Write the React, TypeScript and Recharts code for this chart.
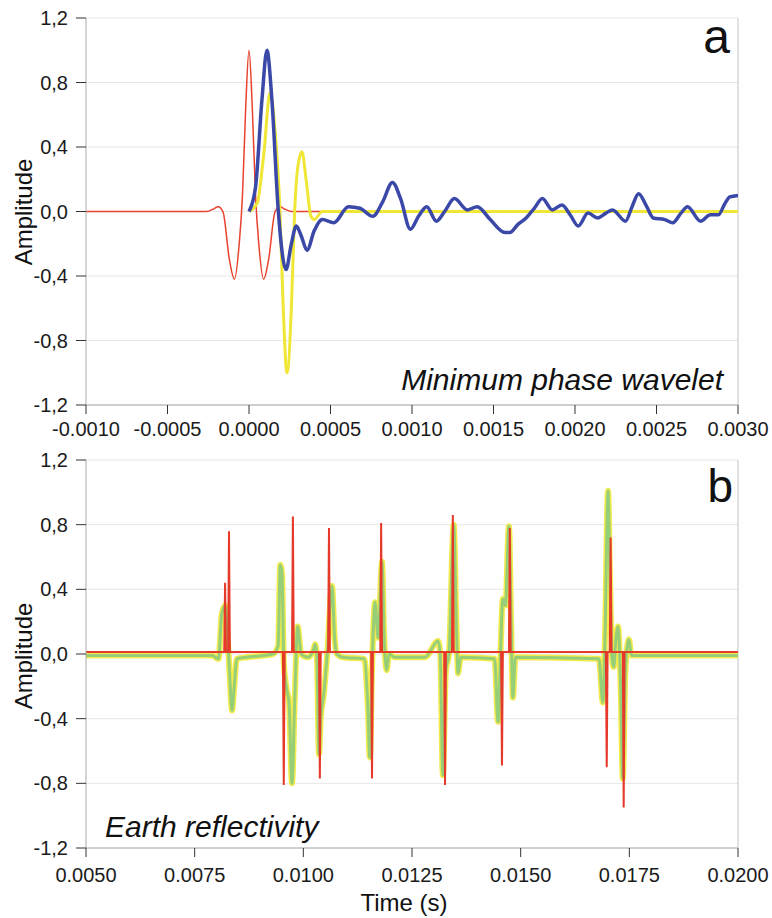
import { LineChart, Line, XAxis, YAxis, CartesianGrid, ReferenceLine } from 'recharts';

// panel a: wavelets, [time (s), amplitude]
const zeroPhase: [number, number][] = [
  [-0.001, 0], [-0.00026, 0], [-0.00022, 0.015], [-0.00019, 0.03], [-0.00016, 0.0],
  [-0.00012, -0.3], [-0.00009, -0.42], [-0.00006, -0.2], [-0.00004, 0.1], [-0.00002, 0.65],
  [0, 1.0], [0.00002, 0.65], [0.00004, 0.1], [0.00006, -0.2], [0.00009, -0.42],
  [0.00012, -0.3], [0.00016, 0], [0.00019, 0.03], [0.00022, 0.015], [0.00026, 0], [0.00047, 0],
];

const minPhase: [number, number][] = [
  [0, 0], [0.00005, 0.05], [0.00009, 0.35], [0.00013, 0.74], [0.00016, 0.5], [0.00019, 0],
  [0.00021, -0.6], [0.000233, -1.0], [0.00026, -0.6], [0.00028, 0], [0.0003, 0.28],
  [0.000325, 0.37], [0.00035, 0.2], [0.00038, -0.03], [0.0004, -0.05], [0.00045, 0], [0.003, 0],
];

const recorded: [number, number][] = [
  [0, 0], [0.00004, 0.15], [0.00008, 0.7], [0.00011, 1.0], [0.00014, 0.7], [0.00018, 0],
  [0.000227, -0.36], [0.00026, -0.2], [0.00029, -0.09], [0.00032, -0.15], [0.000356, -0.24],
  [0.0004, -0.12], [0.00045, -0.05], [0.00052, -0.07], [0.00061, 0.03], [0.00068, 0.02],
  [0.00076, -0.03], [0.00082, 0.06], [0.00088, 0.18], [0.00093, 0.08], [0.00099, -0.11],
  [0.00104, -0.03], [0.00109, 0.03], [0.00115, -0.06], [0.0012, 0.0], [0.00126, 0.08],
  [0.00134, 0.01], [0.0014, 0.03], [0.00148, -0.05], [0.00157, -0.13], [0.0016, -0.13],
  [0.00165, -0.08], [0.0017, -0.04], [0.00175, 0.02], [0.0018, 0.08], [0.00186, 0.01],
  [0.00192, 0.04], [0.00197, -0.02], [0.00202, -0.09], [0.00208, -0.01], [0.00214, -0.04],
  [0.00219, -0.01], [0.00223, 0.01], [0.00231, -0.06], [0.00235, 0.03], [0.00239, 0.11],
  [0.00244, 0.03], [0.00248, -0.04], [0.00255, -0.05], [0.0026, -0.07], [0.00265, -0.01],
  [0.00269, 0.03], [0.00277, -0.06], [0.00283, -0.02], [0.00288, -0.02], [0.00292, 0.05],
  [0.00295, 0.09], [0.003, 0.1],
];

// panel b: filtered trace and reflectivity spikes
const trace: [number, number][] = [
  [0.005, -0.01], [0.0079, -0.01], [0.00805, -0.03], [0.00812, 0.24], [0.0082, 0.3],
  [0.00826, 0.1], [0.0083, -0.1], [0.00836, -0.35], [0.00841, -0.2], [0.00847, -0.03],
  [0.0087, -0.02], [0.0093, 0.0], [0.00942, 0.05], [0.00947, 0.55], [0.00951, 0.5],
  [0.00955, -0.05], [0.00962, -0.22], [0.00967, -0.3], [0.00974, -0.8], [0.0098, -0.3],
  [0.00987, 0.17], [0.00995, 0.0], [0.0101, -0.02], [0.01024, 0.03], [0.01027, 0.06],
  [0.01031, 0.0], [0.01036, -0.62], [0.0104, -0.4], [0.01047, -0.25], [0.01055, 0.0],
  [0.01066, 0.42], [0.01072, 0.1], [0.01077, 0.0], [0.0109, -0.02], [0.0114, -0.03],
  [0.01148, -0.3], [0.01153, -0.64], [0.01159, 0.0], [0.01165, 0.32], [0.01172, 0.1],
  [0.01181, 0.57], [0.01186, 0.1], [0.01192, -0.1], [0.01197, 0.0], [0.0121, -0.02],
  [0.0128, -0.02], [0.0131, 0.08], [0.01315, 0.0], [0.01321, -0.75], [0.01328, -0.1],
  [0.01335, 0.0], [0.01346, 0.8], [0.01352, 0.2], [0.01356, -0.12], [0.01362, -0.02],
  [0.0144, -0.03], [0.01448, -0.42], [0.01453, -0.05], [0.01459, 0.34], [0.01465, 0.3],
  [0.01473, 0.79], [0.01478, 0.2], [0.01482, -0.27], [0.01488, -0.02], [0.0168, -0.03],
  [0.01689, -0.3], [0.01694, 0.1], [0.01701, 1.01], [0.01706, 0.4], [0.0171, -0.02],
  [0.01714, -0.08], [0.0172, 0.12], [0.01724, 0.17], [0.0173, -0.2], [0.01735, -0.77],
  [0.01741, -0.1], [0.01749, 0.09], [0.01755, -0.01], [0.02, -0.01],
];

const spikes: [number, number][] = [
  [0.0082, 0.44], [0.00829, 0.76], [0.00955, -0.81], [0.00976, 0.85], [0.01038, -0.77],
  [0.01059, 0.78], [0.01158, -0.77], [0.01179, 0.81], [0.01326, -0.81], [0.01344, 0.86],
  [0.01457, -0.69], [0.01475, 0.78], [0.01698, -0.7], [0.01707, 0.72], [0.01737, -0.95],
];
const spikeBase = 0.012;
const spikeHalf = 0.00002;

const ampTicks = [-1.2, -0.8, -0.4, 0, 0.4, 0.8, 1.2];
const topTicks = [-0.001, -0.0005, 0, 0.0005, 0.001, 0.0015, 0.002, 0.0025, 0.003];
const bottomTicks = [0.005, 0.0075, 0.01, 0.0125, 0.015, 0.0175, 0.02];

const toRows = (pts: [number, number][]) => pts.map(([t, v]) => ({ t, v }));

const spikeRows = [
  { t: 0.005, v: spikeBase },
  ...spikes.flatMap(([t, v]) => [
    { t: t - spikeHalf, v: spikeBase },
    { t, v },
    { t: t + spikeHalf, v: spikeBase },
  ]),
  { t: 0.02, v: spikeBase },
];

const FONT = '"Liberation Sans", Arial, Helvetica, sans-serif';
const tickStyle = { fontSize: 20, fill: '#1a1a1a', fontFamily: FONT };
const fmtAmp = (v: number) => v.toFixed(1).replace('.', ',');
const fmtTime = (v: number) => v.toFixed(4);

function Axes({ ticks, domain, labelGap }: { ticks: number[]; domain: [number, number]; labelGap: number }) {
  return (
    <>
      <CartesianGrid vertical={false} stroke="#e6e6e6" />
      <XAxis
        dataKey="t"
        type="number"
        domain={domain}
        ticks={ticks}
        allowDataOverflow
        tickFormatter={fmtTime}
        tick={tickStyle}
        tickSize={9}
        tickMargin={labelGap}
        axisLine={{ stroke: '#aaa' }}
        tickLine={{ stroke: '#333' }}
        height={40}
        interval={0}
      />
      <YAxis
        dataKey="v"
        type="number"
        domain={[-1.2, 1.2]}
        ticks={ampTicks}
        allowDataOverflow
        tickFormatter={fmtAmp}
        tick={tickStyle}
        tickSize={10}
        tickMargin={8}
        axisLine={{ stroke: '#aaa' }}
        tickLine={{ stroke: '#333' }}
        width={60}
        interval={0}
      />
      <ReferenceLine x={domain[1]} stroke="#c4c4c4" />
    </>
  );
}

export default function App() {
  return (
    <div style={{ position: 'absolute', left: 0, top: 0, width: 772, height: 918, background: '#fff' }}>
      <div style={{ position: 'absolute', left: 0, top: 0 }}>
        <LineChart width={772} height={445} margin={{ top: 18, right: 34, bottom: 0, left: 26 }}>
          {Axes({ ticks: topTicks, domain: [-0.001, 0.003], labelGap: 8 })}
          <Line data={toRows(zeroPhase)} dataKey="v" type="monotone" stroke="#e8412c" strokeWidth={1.5} dot={false} isAnimationActive={false} />
          <Line data={toRows(minPhase)} dataKey="v" type="monotone" stroke="#efe636" strokeWidth={3} dot={false} isAnimationActive={false} />
          <Line data={toRows(recorded)} dataKey="v" type="monotone" stroke="#3a48a8" strokeWidth={3.5} dot={false} isAnimationActive={false} />
        </LineChart>
      </div>
      <div style={{ position: 'absolute', left: 0, top: 442 }}>
        <LineChart width={772} height={446} margin={{ top: 18, right: 34, bottom: 0, left: 26 }}>
          {Axes({ ticks: bottomTicks, domain: [0.005, 0.02], labelGap: 11 })}
          <Line data={toRows(trace)} dataKey="v" type="monotone" stroke="#f3ea4e" strokeWidth={6} dot={false} isAnimationActive={false} />
          <Line data={toRows(trace)} dataKey="v" type="monotone" stroke="#96cf78" strokeWidth={3} dot={false} isAnimationActive={false} />
          <Line data={spikeRows} dataKey="v" type="linear" stroke="#e5392a" strokeWidth={2} dot={false} isAnimationActive={false} />
        </LineChart>
      </div>
      <svg width={772} height={918} style={{ position: 'absolute', left: 0, top: 0, pointerEvents: 'none' }}>
        <g fontFamily={FONT} fill="#111">
          <text x={730} y={53} fontSize={48} textAnchor="end">a</text>
          <text x={733} y={502} fontSize={46} textAnchor="end">b</text>
          <text x={723} y={390} fontSize={30} fontStyle="italic" textAnchor="end">Minimum phase wavelet</text>
          <text x={105} y={837} fontSize={30} fontStyle="italic">Earth reflectivity</text>
          <text x={404} y={911} fontSize={24} textAnchor="middle">Time (s)</text>
          <text transform="translate(32,212) rotate(-90)" fontSize={24} textAnchor="middle">Amplitude</text>
          <text transform="translate(32,656) rotate(-90)" fontSize={24} textAnchor="middle">Amplitude</text>
        </g>
      </svg>
    </div>
  );
}
